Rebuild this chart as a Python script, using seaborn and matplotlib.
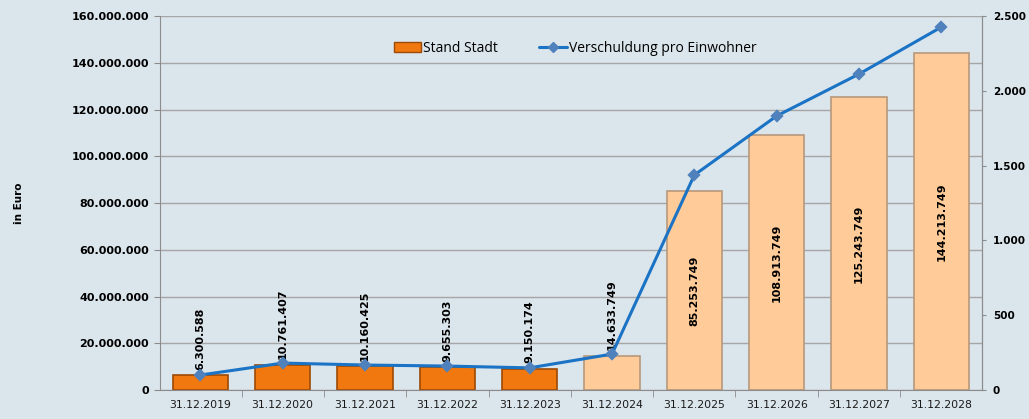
import numpy as np
import pandas as pd
import seaborn as sns
import matplotlib.pyplot as plt
from matplotlib.patches import Patch
from matplotlib.lines import Line2D
from matplotlib.ticker import FuncFormatter, MultipleLocator

# Daten aus dem Diagramm
stichtage = ["31.12.2019", "31.12.2020", "31.12.2021", "31.12.2022", "31.12.2023",
             "31.12.2024", "31.12.2025", "31.12.2026", "31.12.2027", "31.12.2028"]
stand_stadt = [6300588, 10761407, 10160425, 9655303, 9150174,
               14633749, 85253749, 108913749, 125243749, 144213749]
pro_einwohner = [100, 180, 167, 160, 148, 240, 1437, 1832, 2112, 2426]
# Ist-Werte orange, Planwerte hell
bar_colors = ["#f0780f"] * 5 + ["#ffcc99"] * 5
edge_colors = ["#9c4a05"] * 5 + ["#b8987a"] * 5

bg = "#dbe5ec"
line_col = "#1a73c4"

def de_fmt(v, pos=None):
    return f"{int(round(v)):,}".replace(",", ".")

sns.set_style("white")
plt.rcParams["font.family"] = ["DejaVu Sans"]
plt.rcParams["text.color"] = "black"

df = pd.DataFrame({"datum": stichtage, "stand": stand_stadt, "ew": pro_einwohner})

fig = plt.figure(figsize=(10.29, 4.19), dpi=100, facecolor=bg)
ax = fig.add_axes([0.1555, 0.0692, 0.7985, 0.8926])
ax.set_facecolor(bg)

sns.barplot(data=df, x="datum", y="stand", hue="datum", palette=bar_colors,
            legend=False, width=0.67, ax=ax, saturation=1)
for cont, ec in zip(ax.containers, edge_colors):
    for p in cont:
        p.set_edgecolor(ec)
        p.set_linewidth(1.2)
        p.set_zorder(2)

ax.set_ylim(0, 160000000)
ax.set_xlim(-0.49, 9.49)
ax.yaxis.set_major_locator(MultipleLocator(20000000))
ax.yaxis.set_major_formatter(FuncFormatter(de_fmt))
ax.grid(axis="y", color="#a6a6a6", linewidth=1)
ax.set_axisbelow(True)
ax.set_xlabel("")
ax.set_ylabel("in Euro", fontsize=7.5, fontweight="bold", labelpad=34, color="black")

for lab in ax.get_yticklabels():
    lab.set_fontweight("bold")
ax.tick_params(axis="y", labelsize=8, length=4, color="#8c8c8c", left=True, pad=4,
               labelcolor="black")
ax.tick_params(axis="x", labelsize=7.8, length=0, pad=7, labelcolor="#1a1a1a")
ax.set_xticks(np.arange(len(stichtage)) + 0.5, minor=True)
ax.tick_params(axis="x", which="minor", length=5, color="#8c8c8c", bottom=True)

for s in ["left", "bottom", "right"]:
    ax.spines[s].set_color("#8c8c8c")
ax.spines["top"].set_visible(False)

# Beschriftungen der Säulen
for cont, val in zip(ax.containers, stand_stadt):
    p = cont[0]
    xc = p.get_x() + p.get_width() / 2
    if val < 20000000:
        ax.annotate(de_fmt(val), (xc, val), xytext=(0, 4), textcoords="offset points",
                    rotation=90, ha="center", va="bottom", fontsize=8,
                    fontweight="bold", color="black", zorder=3)
    else:
        ax.text(xc, val / 2, de_fmt(val), rotation=90, ha="center", va="center",
                fontsize=8, fontweight="bold", color="black", zorder=3)

# Verschuldung pro Einwohner auf zweiter Achse
ax2 = ax.twinx()
sns.pointplot(data=df, x="datum", y="ew", color=line_col, markers="D",
              markersize=5, linewidth=2.2, ax=ax2)
ln = ax2.lines[0]
ln.set_markerfacecolor("#4f81bd")
ln.set_markeredgecolor("#4f81bd")
ax2.set_ylim(0, 2500)
ax2.set_xlim(-0.49, 9.49)
ax2.yaxis.set_major_locator(MultipleLocator(500))
ax2.yaxis.set_major_formatter(FuncFormatter(de_fmt))
ax2.set_ylabel("")
ax2.set_xlabel("")
ax2.tick_params(axis="y", labelsize=7.5, length=3, color="#8c8c8c", right=True, pad=5,
                labelcolor="black")
for lab in ax2.get_yticklabels():
    lab.set_fontweight("bold")
for s in ax2.spines.values():
    s.set_visible(False)
ax2.spines["right"].set_visible(True)
ax2.spines["right"].set_color("#8c8c8c")
ax2.grid(False)

handles = [
    Patch(facecolor=bar_colors[0], edgecolor=edge_colors[0]),
    Line2D([], [], color=line_col, linewidth=2.2, marker="D", markersize=5,
           markerfacecolor="#4f81bd", markeredgecolor="#4f81bd"),
]
leg = ax2.legend(handles, ["Stand Stadt", "Verschuldung pro Einwohner"], loc="center",
                 bbox_to_anchor=(0.505, 0.914), ncol=2, frameon=False,
                 prop={"family": ["Open Sans", "DejaVu Sans"], "size": 10},
                 handlelength=2.0, handletextpad=0.1, columnspacing=3.0)
for t in leg.get_texts():
    t.set_color("black")

fig.savefig("out.png", dpi=100, facecolor=bg)
